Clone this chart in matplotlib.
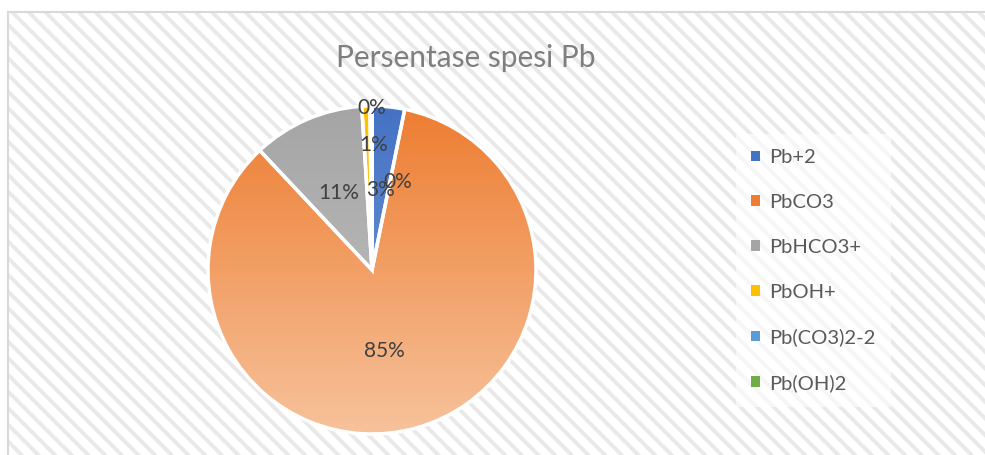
import numpy as np
import matplotlib
matplotlib.use("Agg")
from matplotlib import pyplot as plt
from matplotlib.patches import Rectangle, Patch
from matplotlib.colors import to_rgb

# data
species = ["Pb+2", "PbCO3", "PbHCO3+", "PbOH+", "Pb(CO3)2-2", "Pb(OH)2"]
percent = [3.2, 84.8, 11.0, 0.8, 0.15, 0.05]
pct_labels = ["3%", "85%", "11%", "1%", "0%", "0%"]

base_colors = ["#4472C4", "#ED7D31", "#A5A5A5", "#FFC000", "#5B9BD5", "#70AD47"]
light_colors = ["#7F9FDA", "#F7C29B", "#C4C4C4", "#FFD966", "#9DC3E6", "#A9D18E"]
# label placement (radius, angle shift in deg) tuned by eye
label_place = [(0.49, 0), (0.5, -7), (0.51, 0), (0.76, -3), (0.56, -17), (0.99, 0)]

plt.rcParams['font.family'] = ['Lato', 'DejaVu Sans']
plt.rcParams['hatch.linewidth'] = 2.8

fig = plt.figure(figsize=(9.85, 4.55), dpi=100)
W, H = 985, 455

# hatched chart area background with light border (runs off bottom/right)
bg = Rectangle((8 / W, -0.05), 1.0, 1 - 12 / H + 0.05, transform=fig.transFigure,
               facecolor="white", edgecolor="#E9E9E9", linewidth=0, hatch="\\\\",
               zorder=-2)
fig.patches.append(bg)
border = Rectangle((8 / W, -0.05), 1.0, 1 - 12 / H + 0.05, transform=fig.transFigure,
                   facecolor="none", edgecolor="#D9D9D9", linewidth=1.5, zorder=-1)
fig.patches.append(border)

fig.text(466 / W, 1 - 58 / H, "Persentase spesi Pb", ha="center", va="center",
         fontsize=21.5, color="#7F7F7F")

cx, cy, r = 372, 270, 164
ax = fig.add_axes([(cx - r) / W, (H - cy - r) / H, 2 * r / W, 2 * r / H])
ax.patch.set_visible(False)

wedges, _ = ax.pie(percent, startangle=90, counterclock=False, radius=1,
                   wedgeprops=dict(edgecolor="white", linewidth=2.5))

for w, c0, c1 in zip(wedges, base_colors, light_colors):
    a = np.array(to_rgb(c0))
    b = np.array(to_rgb(c1))
    t = np.linspace(0, 1, 256)[:, None]
    grad = (a * (1 - t) + b * t)[:, None, :]
    im = ax.imshow(grad, extent=(-1, 1, -1, 1), origin="upper", aspect="auto", zorder=1)
    im.set_clip_path(w)
    w.set_facecolor("none")
    w.set_zorder(2)

for w, lab, (rr, shift) in zip(wedges, pct_labels, label_place):
    mid = np.deg2rad((w.theta1 + w.theta2) / 2 + shift)
    ax.text(rr * np.cos(mid), rr * np.sin(mid), lab, ha="center", va="center",
            fontsize=15, color="#404040", zorder=3)

ax.set_xlim(-1.0, 1.0)
ax.set_ylim(-1.0, 1.0)
ax.set_aspect("equal")
ax.axis("off")

handles = [Patch(facecolor=c, edgecolor="none") for c in base_colors]
leg = fig.legend(handles, species, loc="upper left",
                 bbox_to_anchor=(726 / W, 1 - 124 / H), frameon=True,
                 fontsize=14.5, handlelength=0.45, handleheight=0.45,
                 handletextpad=0.45, labelspacing=1.38, borderpad=0.75,
                 labelcolor="#595959")
leg.get_frame().set_facecolor("white")
leg.get_frame().set_alpha(0.6)
leg.get_frame().set_edgecolor("none")
leg.get_frame().set_boxstyle("square", pad=0)

fig.savefig("out.png", dpi=100)
